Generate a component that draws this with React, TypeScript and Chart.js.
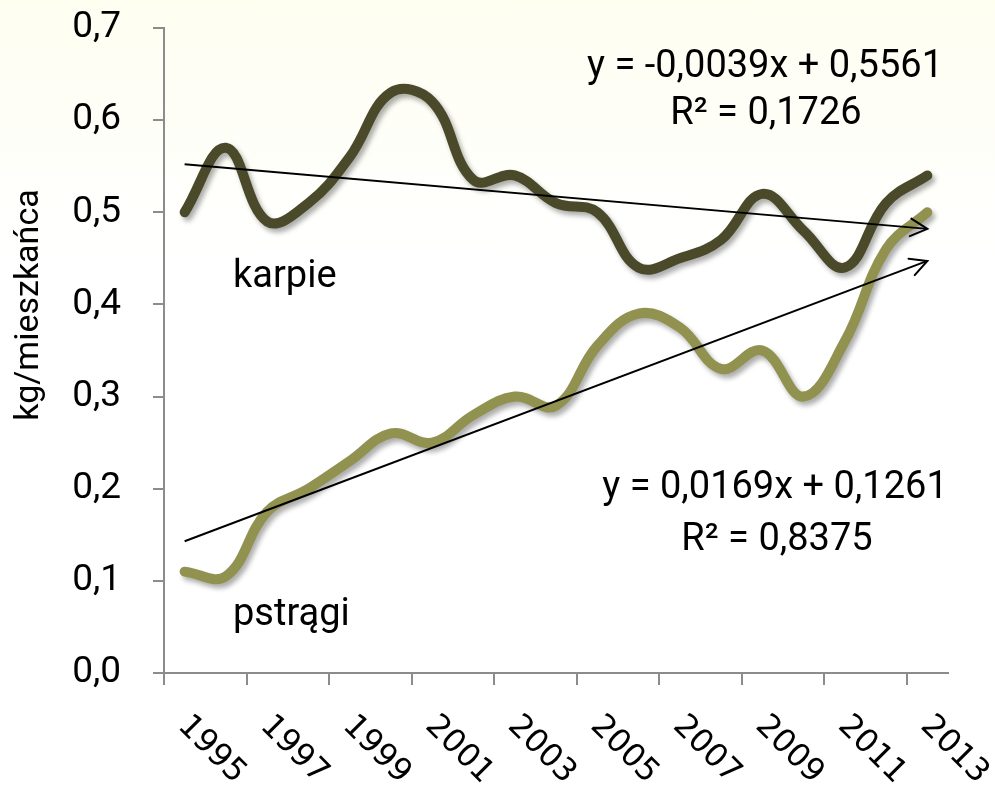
import React, { useEffect, useRef } from 'react';
import { Chart, registerables } from 'chart.js';

Chart.register(...registerables);

// ---- data ----
const years = ['1995', '1996', '1997', '1998', '1999', '2000', '2001', '2002', '2003', '2004', '2005', '2006', '2007', '2008', '2009', '2010', '2011', '2012', '2013'];
const karpie = [0.50, 0.57, 0.49, 0.51, 0.56, 0.63, 0.62, 0.535, 0.54, 0.51, 0.50, 0.44, 0.45, 0.47, 0.52, 0.48, 0.44, 0.51, 0.54];
const pstragi = [0.11, 0.105, 0.175, 0.20, 0.23, 0.26, 0.25, 0.28, 0.30, 0.29, 0.355, 0.39, 0.375, 0.33, 0.35, 0.30, 0.36, 0.46, 0.50];
const seriesNames = ['karpie', 'pstrągi'];
const karpieTrend = { slope: -0.0039, intercept: 0.5561 };
const pstragiTrend = { slope: 0.0169, intercept: 0.1261 };
const karpieEquation = ['y = -0,0039x + 0,5561', 'R² = 0,1726'];
const pstragiEquation = ['y = 0,0169x + 0,1261', 'R² = 0,8375'];
const yMin = 0;
const yMax = 0.7;
const yStep = 0.1;
const yTitle = 'kg/mieszkańca';

const DARK = '#4a4a2b';
const LIGHT = '#929250';
const AXIS = '#8c8c8c';

function trendData(t: { slope: number; intercept: number }) {
  return years.map((_, i) => (i === 0 || i === years.length - 1 ? t.slope * (i + 1) + t.intercept : null));
}

const overlayPlugin = {
  id: 'overlay',
  beforeDatasetDraw(chart: any, args: any) {
    const ctx = chart.ctx;
    ctx.save();
    const ds = chart.data.datasets[args.index];
    if (ds && ds.isSeries) {
      ctx.shadowColor = 'rgba(0,0,0,0.32)';
      ctx.shadowBlur = 5;
      ctx.shadowOffsetX = 3;
      ctx.shadowOffsetY = 4;
    }
  },
  afterDatasetDraw(chart: any) {
    chart.ctx.restore();
  },
  afterDatasetsDraw(chart: any) {
    const ctx = chart.ctx;
    chart.data.datasets.forEach((ds: any, i: number) => {
      if (!ds.isTrend) return;
      const pts = chart.getDatasetMeta(i).data;
      const p0 = pts[0];
      const p1 = pts[pts.length - 1];
      const ang = Math.atan2(p1.y - p0.y, p1.x - p0.x);
      const L = 19;
      const a = 0.48;
      ctx.save();
      ctx.strokeStyle = '#000';
      ctx.lineWidth = 2;
      ctx.lineCap = 'round';
      ctx.beginPath();
      ctx.moveTo(p1.x - L * Math.cos(ang - a), p1.y - L * Math.sin(ang - a));
      ctx.lineTo(p1.x, p1.y);
      ctx.lineTo(p1.x - L * Math.cos(ang + a), p1.y - L * Math.sin(ang + a));
      ctx.stroke();
      ctx.restore();
    });
  },
  afterDraw(chart: any) {
    const ctx = chart.ctx;
    const xs = chart.scales.x;
    ctx.save();
    // x labels rotated clockwise
    ctx.fillStyle = '#000';
    ctx.font = '32px "DejaVu Sans"';
    ctx.textAlign = 'left';
    ctx.textBaseline = 'middle';
    years.forEach((y, i) => {
      if (i % 2 !== 0) return;
      const x = xs.getPixelForValue(i);
      ctx.save();
      ctx.translate(x - 2, 721);
      ctx.rotate(Math.PI / 4);
      ctx.fillText(y, 0, 0);
      ctx.restore();
    });
    // y title
    ctx.save();
    ctx.font = '34px Roboto';
    ctx.textAlign = 'center';
    ctx.textBaseline = 'middle';
    ctx.translate(29, 305);
    ctx.rotate(-Math.PI / 2);
    ctx.fillText(yTitle, 0, 0);
    ctx.restore();
    // series labels
    ctx.font = '38px Roboto';
    ctx.textAlign = 'left';
    ctx.textBaseline = 'alphabetic';
    ctx.fillText(seriesNames[0], 233, 287);
    ctx.fillText(seriesNames[1], 233, 625);
    // equations
    ctx.textAlign = 'center';
    ctx.fillText(karpieEquation[0], 765, 77);
    ctx.fillText(karpieEquation[1], 766, 124);
    ctx.fillText(pstragiEquation[0], 775, 498);
    ctx.fillText(pstragiEquation[1], 777, 550);
    ctx.restore();
  },
};

export default function App() {
  const ref = useRef<HTMLCanvasElement>(null);
  useEffect(() => {
    if (!ref.current) return;
    const chart = new Chart(ref.current, {
      type: 'line',
      data: {
        labels: years,
        datasets: [
          {
            label: 'karpie trend',
            data: trendData(karpieTrend),
            borderColor: '#000',
            borderWidth: 2,
            pointRadius: 0,
            spanGaps: true,
            tension: 0,
            order: 0,
            isTrend: true,
          } as any,
          {
            label: 'pstrągi trend',
            data: trendData(pstragiTrend),
            borderColor: '#000',
            borderWidth: 2,
            pointRadius: 0,
            spanGaps: true,
            tension: 0,
            order: 0,
            isTrend: true,
          } as any,
          {
            label: seriesNames[0],
            data: karpie,
            borderColor: DARK,
            borderWidth: 10,
            pointRadius: 0,
            tension: 0.4,
            borderCapStyle: 'round',
            borderJoinStyle: 'round',
            order: 1,
            isSeries: true,
          } as any,
          {
            label: seriesNames[1],
            data: pstragi,
            borderColor: LIGHT,
            borderWidth: 10,
            pointRadius: 0,
            tension: 0.4,
            borderCapStyle: 'round',
            borderJoinStyle: 'round',
            order: 1,
            isSeries: true,
          } as any,
        ],
      },
      options: {
        responsive: false,
        animation: false,
        events: [],
        layout: { padding: { top: 28, right: 47, left: 0, bottom: 0 } },
        plugins: { legend: { display: false }, tooltip: { enabled: false } },
        scales: {
          x: {
            type: 'category',
            offset: true,
            ticks: { display: false, autoSkip: false },
            grid: {
              offset: true,
              drawOnChartArea: false,
              drawTicks: true,
              tickLength: 12,
              lineWidth: 2,
              color: (c: any) => (c.index !== undefined && c.type === 'tick' && c.index % 2 === 0 ? AXIS : 'rgba(0,0,0,0)'),
            },
            border: { display: true, color: AXIS, width: 2 },
            afterFit: (s: any) => {
              s.height = 116;
              s.paddingLeft = 0;
              s.paddingRight = 0;
            },
          },
          y: {
            min: yMin,
            max: yMax,
            ticks: {
              stepSize: yStep,
              color: '#000',
              font: { family: 'Roboto', size: 37 },
              padding: 32,
              callback: (v: any) => Number(v).toFixed(1).replace('.', ','),
            },
            grid: { drawOnChartArea: false, drawTicks: true, tickLength: 11, color: AXIS, lineWidth: 2 },
            border: { display: true, color: AXIS, width: 2 },
            afterFit: (s: any) => {
              s.width = 164;
              s.paddingTop = 0;
              s.paddingBottom = 0;
            },
          },
        },
      },
      plugins: [overlayPlugin],
    });
    return () => chart.destroy();
  }, []);
  return (
    <div
      style={{
        position: 'absolute',
        left: 0,
        top: 0,
        width: 995,
        height: 789,
        background: 'linear-gradient(to bottom, #fefef1 0px, #ffffff 260px, #ffffff 789px)',
      }}
    >
      <canvas ref={ref} width={995} height={789} style={{ display: 'block' }} />
    </div>
  );
}
